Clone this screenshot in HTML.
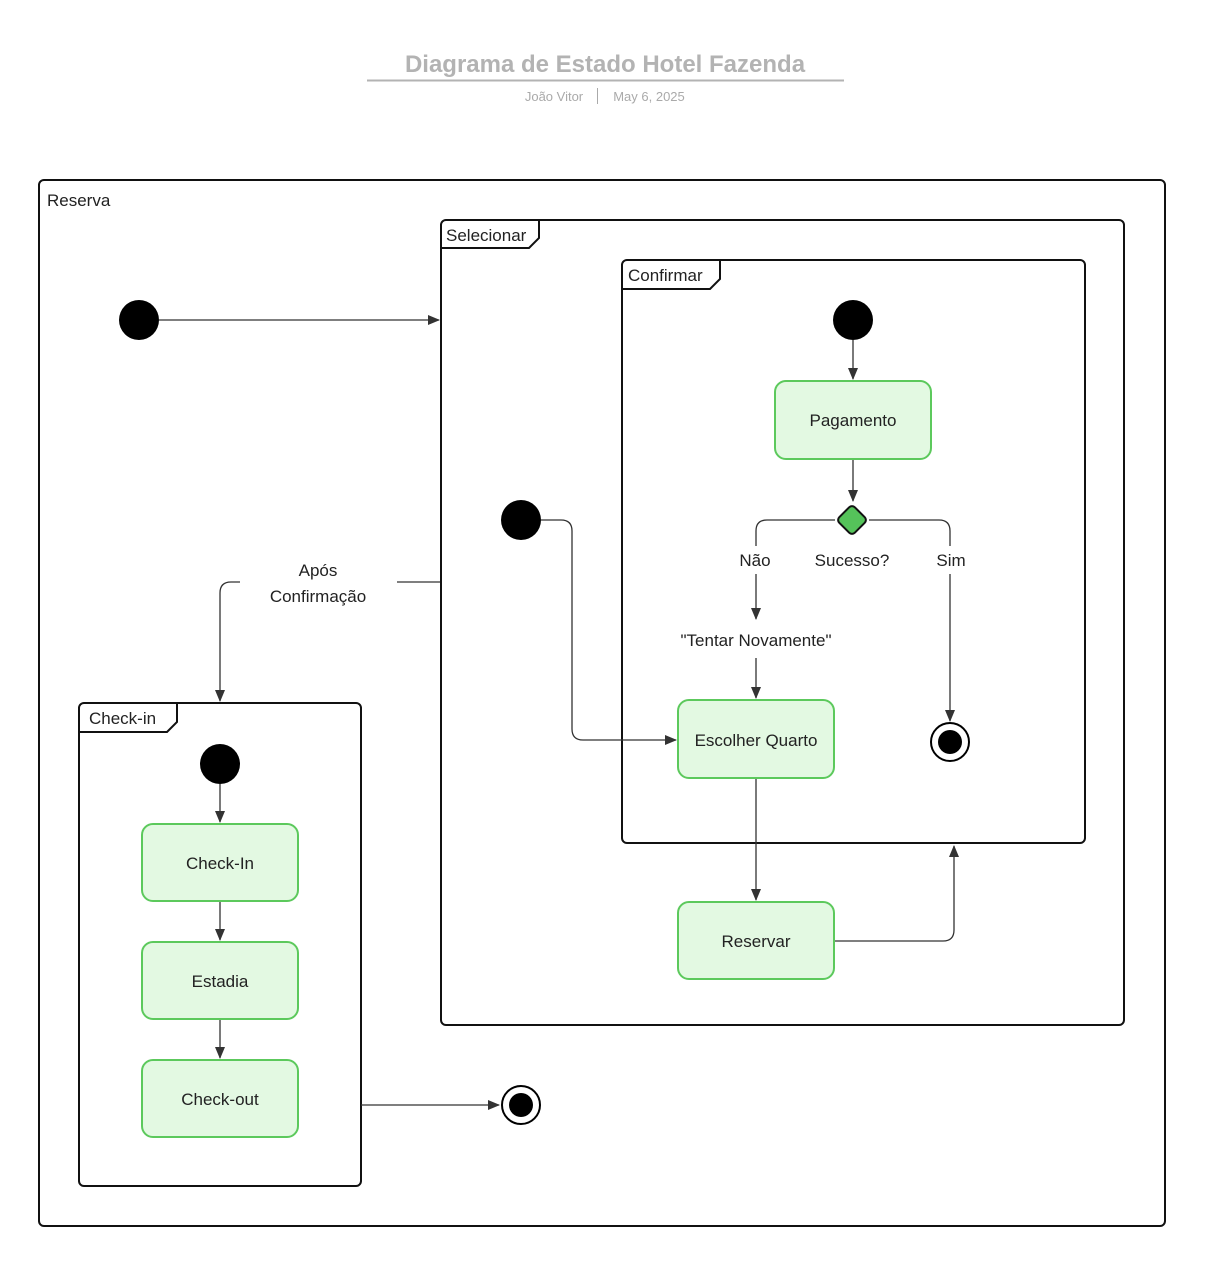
<!DOCTYPE html>
<html><head><meta charset="utf-8"><style>
html,body{margin:0;padding:0;background:#fff;}
svg{display:block;font-family:"Liberation Sans",sans-serif;}
</style></head><body>
<svg width="1205" height="1265" viewBox="0 0 1205 1265" xmlns="http://www.w3.org/2000/svg">
<defs>
<marker id="a" markerWidth="12" markerHeight="10" refX="11" refY="5" orient="auto" markerUnits="userSpaceOnUse">
<path d="M0,0 L12,5 L0,10 Z" fill="#333"/></marker>
</defs>
<rect width="1205" height="1265" fill="#fff"/>
<text x="605" y="72" text-anchor="middle" font-size="24" font-weight="bold" fill="#b3b3b3">Diagrama de Estado Hotel Fazenda</text>
<line x1="367" y1="80.5" x2="844" y2="80.5" stroke="#b3b3b3" stroke-width="2"/>
<text x="554" y="101" text-anchor="middle" font-size="13" fill="#aaa">João Vitor</text>
<line x1="597.5" y1="88" x2="597.5" y2="104" stroke="#aaa"/>
<text x="649" y="101" text-anchor="middle" font-size="13" fill="#aaa">May 6, 2025</text>

<g fill="none" stroke="#111" stroke-width="2">
<rect x="39" y="180" width="1126" height="1046" rx="5"/>
<rect x="441" y="220" width="683" height="805" rx="5"/>
<path d="M441,248 H529 L539,238 V220"/>
<rect x="622" y="260" width="463" height="583" rx="5"/>
<path d="M622,289 H710 L720,279 V260"/>
<rect x="79" y="703" width="282" height="483" rx="5"/>
<path d="M79,732 H167 L177,722 V703"/>
</g>
<g font-size="17" fill="#222">
<text x="47" y="206">Reserva</text>
<text x="446" y="241">Selecionar</text>
<text x="628" y="281">Confirmar</text>
<text x="89" y="724">Check-in</text>
</g>

<g fill="none" stroke="#333" stroke-width="1.3">
<path d="M159,320 H439" marker-end="url(#a)"/>
<path d="M853,340 V379" marker-end="url(#a)"/>
<path d="M853,459 V501" marker-end="url(#a)"/>
<path d="M835,520 H767 Q756,520 756,531 V619" marker-end="url(#a)"/>
<path d="M869,520 H939 Q950,520 950,531 V721" marker-end="url(#a)"/>
<path d="M756,658 V698" marker-end="url(#a)"/>
<path d="M541,520 H561 Q572,520 572,531 V729 Q572,740 583,740 H676" marker-end="url(#a)"/>
<path d="M756,778 V900" marker-end="url(#a)"/>
<path d="M834,941 H943 Q954,941 954,930 V846" marker-end="url(#a)"/>
<path d="M440,582 H397"/>
<path d="M240,582 H231 Q220,582 220,593 V701" marker-end="url(#a)"/>
<path d="M220,784 V822" marker-end="url(#a)"/>
<path d="M220,901 V940" marker-end="url(#a)"/>
<path d="M220,1019 V1058" marker-end="url(#a)"/>
<path d="M361,1105 H499" marker-end="url(#a)"/>
</g>
<rect x="736" y="546" width="40" height="28" fill="#fff"/>
<rect x="932" y="546" width="38" height="28" fill="#fff"/>

<g fill="#000">
<circle cx="139" cy="320" r="20"/>
<circle cx="853" cy="320" r="20"/>
<circle cx="521" cy="520" r="20"/>
<circle cx="220" cy="764" r="20"/>
<circle cx="950" cy="742" r="12"/>
<circle cx="521" cy="1105" r="12"/>
</g>
<circle cx="950" cy="742" r="19" fill="none" stroke="#000" stroke-width="2"/>
<circle cx="521" cy="1105" r="19" fill="none" stroke="#000" stroke-width="2"/>
<rect x="841" y="509" width="22" height="22" rx="4" transform="rotate(45 852 520)" fill="#55c35a" stroke="#111" stroke-width="2"/>

<g fill="#e3f9e2" stroke="#5cc95c" stroke-width="2">
<rect x="775" y="381" width="156" height="78" rx="11"/>
<rect x="678" y="700" width="156" height="78" rx="11"/>
<rect x="678" y="902" width="156" height="77" rx="11"/>
<rect x="142" y="824" width="156" height="77" rx="11"/>
<rect x="142" y="942" width="156" height="77" rx="11"/>
<rect x="142" y="1060" width="156" height="77" rx="11"/>
</g>
<g font-size="17" fill="#222" text-anchor="middle">
<text x="853" y="426">Pagamento</text>
<text x="756" y="746">Escolher Quarto</text>
<text x="756" y="947">Reservar</text>
<text x="220" y="869">Check-In</text>
<text x="220" y="987">Estadia</text>
<text x="220" y="1105">Check-out</text>
<text x="755" y="566">Não</text>
<text x="852" y="566">Sucesso?</text>
<text x="951" y="566">Sim</text>
<text x="756" y="646">"Tentar Novamente"</text>
<text x="318" y="576">Após</text>
<text x="318" y="602">Confirmação</text>
</g>
</svg>
</body></html>
